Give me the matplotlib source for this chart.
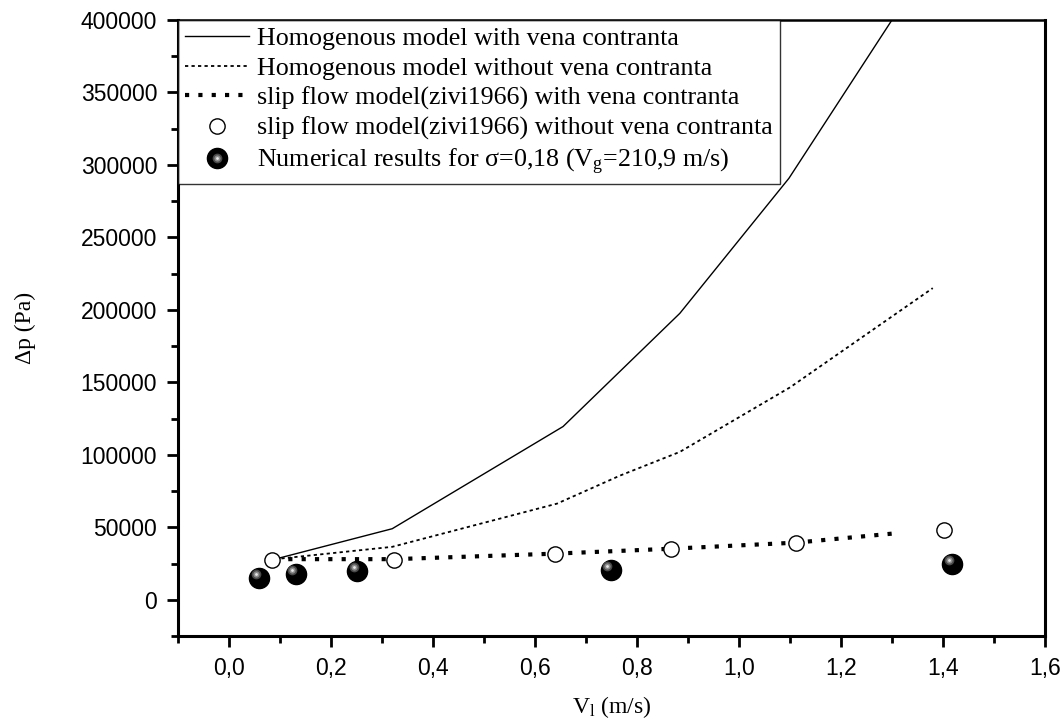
import matplotlib
matplotlib.use("Agg")
import matplotlib.pyplot as plt
import matplotlib.transforms as mtransforms
from matplotlib.ticker import MultipleLocator, FuncFormatter
from matplotlib.legend_handler import HandlerTuple

plt.rcParams["mathtext.fontset"] = "custom"
plt.rcParams["mathtext.rm"] = "Liberation Serif"
plt.rcParams["mathtext.it"] = "Liberation Serif:italic"

# Homogenous model, with vena contracta
vl_hom_vc = [0.09, 0.32, 0.655, 0.884, 1.098, 1.30]
dp_hom_vc = [28000, 49000, 119500, 197600, 290800, 400000]

# Homogenous model, without vena contracta
vl_hom = [0.09, 0.32, 0.643, 0.767, 0.884, 1.10, 1.38]
dp_hom = [28000, 36500, 66300, 85700, 102000, 146500, 215000]

# Slip flow (Zivi 1966), with vena contracta
vl_slip_vc = [0.09, 0.324, 0.639, 0.867, 1.112, 1.30]
dp_slip_vc = [28000, 28000, 31800, 35200, 39400, 45600]

# Slip flow (Zivi 1966), without vena contracta
vl_slip = [0.084, 0.324, 0.639, 0.867, 1.112, 1.402]
dp_slip = [27600, 27600, 31800, 35200, 39400, 48300]

# Numerical results
vl_num = [0.059, 0.131, 0.251, 0.749, 1.418]
dp_num = [15200, 18000, 20000, 20700, 24900]

labels = [
    "Homogenous model with vena contranta",
    "Homogenous model without vena contranta",
    "slip flow model(zivi1966) with vena contranta",
    "slip flow model(zivi1966) without vena contranta",
    r"Numerical results for σ=0,18 (V$_\mathrm{g}$=210,9 m/s)",
]

fig = plt.figure(figsize=(10.63, 7.25), dpi=100)
ax = fig.add_axes([0.1675, 0.1228, 0.8155, 0.8496])

l1, = ax.plot(vl_hom_vc, dp_hom_vc, color="black", lw=1.0)
l2, = ax.plot(vl_hom, dp_hom, color="black", lw=1.3, dashes=(1.8, 1.8))
l3, = ax.plot(vl_slip_vc, dp_slip_vc, color="black", lw=3.0,
              dashes=(1.0, 2.2), dash_capstyle="butt")
l4, = ax.plot(vl_slip, dp_slip, ls="none", marker="o", ms=11,
              mfc="white", mec="black", mew=1.0, zorder=4)

# shaded spheres: black body plus offset highlights
b1, = ax.plot(vl_num, dp_num, ls="none", marker="o", ms=14.5,
              mfc="black", mec="black", zorder=5)
shift = mtransforms.ScaledTranslation(-3.5 / 100, 3.5 / 100, fig.dpi_scale_trans)
b2, = ax.plot(vl_num, dp_num, ls="none", marker="o", ms=7,
              mfc="#4a4a4a", mec="none", zorder=6,
              transform=ax.transData + shift)
b3, = ax.plot(vl_num, dp_num, ls="none", marker="o", ms=4.5,
              mfc="#8c8c8c", mec="none", zorder=7,
              transform=ax.transData + shift)
b4, = ax.plot(vl_num, dp_num, ls="none", marker="o", ms=2,
              mfc="#e8e8e8", mec="none", zorder=8,
              transform=ax.transData + shift)

ax.set_xlim(-0.1, 1.6)
ax.set_ylim(-25000, 400000)

ax.xaxis.set_major_locator(MultipleLocator(0.2))
ax.xaxis.set_minor_locator(MultipleLocator(0.1))
ax.yaxis.set_major_locator(MultipleLocator(50000))
ax.yaxis.set_minor_locator(MultipleLocator(25000))
ax.xaxis.set_major_formatter(FuncFormatter(lambda v, p: f"{v:.1f}".replace(".", ",")))
ax.yaxis.set_major_formatter(FuncFormatter(lambda v, p: f"{v:.0f}"))

ax.tick_params(which="both", direction="out", width=2, colors="black",
               labelsize=16.5, top=False, right=False)
ax.tick_params(which="major", length=8, pad=7)
ax.tick_params(which="minor", length=5)
for lab in ax.get_xticklabels() + ax.get_yticklabels():
    lab.set_fontfamily("Liberation Sans")

for side in ["left", "bottom", "right"]:
    ax.spines[side].set_linewidth(2.2)
ax.spines["top"].set_linewidth(1.8)

ax.set_xlabel(r"V$_\mathrm{l}$ (m/s)", fontsize=17, family="Liberation Serif", labelpad=10)
ax.set_ylabel("Δp (Pa)", fontsize=17, family="Liberation Serif", labelpad=32)

leg = ax.legend([l1, l2, l3, l4, (b1, b2, b3, b4)], labels,
                handler_map={tuple: HandlerTuple(ndivide=1, pad=0)},
                loc="upper left", bbox_to_anchor=(0, 1), borderaxespad=0,
                prop={"family": "Liberation Serif", "size": 18.7},
                frameon=True, fancybox=False, edgecolor="black",
                handlelength=2.5, handletextpad=0.3, labelspacing=0.26,
                borderpad=0.25)
leg.get_frame().set_linewidth(1.0)
leg.set_zorder(10)

fig.savefig("out.png", dpi=100)
